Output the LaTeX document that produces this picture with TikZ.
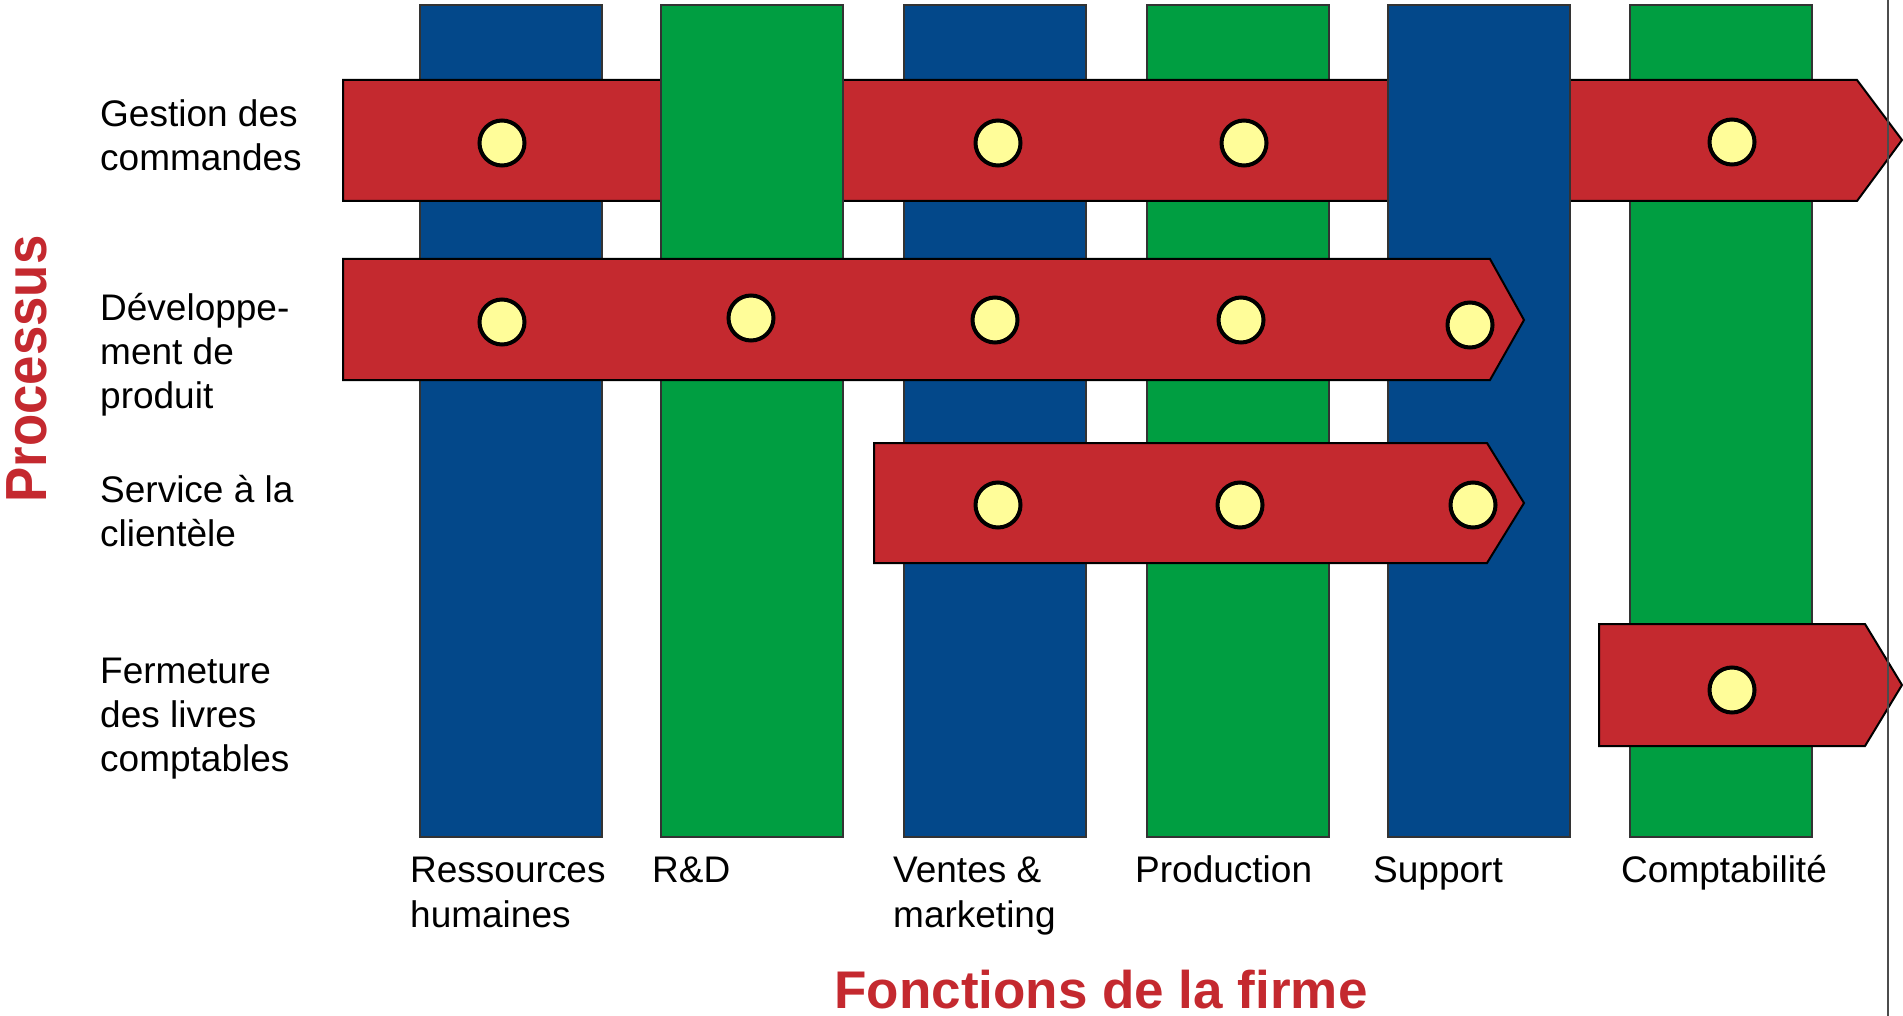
\documentclass[tikz,border=0pt]{standalone}
\usepackage{fontspec}
\setmainfont{Liberation Sans}
\definecolor{colblue}{HTML}{03488A}
\definecolor{colgreen}{HTML}{009E41}
\definecolor{procred}{HTML}{C4292F}
\definecolor{dotyellow}{HTML}{FFFD99}
\tikzset{
  colbox/.style={draw=black!80, line width=1.5pt, inner sep=0pt, outer sep=0pt,
    minimum width=182pt, minimum height=832pt, anchor=north west},
  band/.style={fill=procred, draw=black, line width=2pt, line join=miter},
  dot/.style={circle, fill=dotyellow, draw=black, line width=4pt,
    minimum size=45pt, inner sep=0pt},
  % multi-line labels are placed by the baseline of their last line
  rowlabel/.style={anchor=base west, align=left, inner sep=0pt,
    font=\fontsize{37}{44}\selectfont},
  collabel/.style={anchor=base west, align=left, inner sep=0pt,
    font=\fontsize{37}{45}\selectfont},
  axistitle/.style={text=procred, inner sep=0pt, anchor=base,
    font=\bfseries\fontsize{53}{60}\selectfont}
}
\begin{document}
\begin{tikzpicture}[x=1pt,y=-1pt]
\useasboundingbox (0,0) rectangle (1903,1016);

% functions of the firm: vertical columns (behind the first process band)
\node[colbox, fill=colblue]  (c1) at (420,5)  {};
\node[colbox, fill=colblue]  (c3) at (904,5)  {};
\node[colbox, fill=colgreen] (c4) at (1147,5) {};
\node[colbox, fill=colgreen] (c6) at (1630,5) {};

% order management band passes behind R&D and Support
\path[band] (343,80) -- (1857,80) -- (1902,140) -- (1857,201) -- (343,201) -- cycle;

\node[colbox, fill=colgreen] (c2) at (661,5)  {};
\node[colbox, fill=colblue]  (c5) at (1388,5) {};

% remaining process bands
\path[band] (343,259) -- (1490,259) -- (1524,320) -- (1490,380) -- (343,380) -- cycle;
\path[band] (874,443) -- (1487,443) -- (1524,503) -- (1487,563) -- (874,563) -- cycle;
\path[band] (1599,624) -- (1865,624) -- (1902,685) -- (1865,746) -- (1599,746) -- cycle;

% touch points
\node[dot] (d11) at (502,143)  {};
\node[dot] (d13) at (998,143)  {};
\node[dot] (d14) at (1244,143) {};
\node[dot] (d16) at (1732,142) {};

\node[dot] (d21) at (502,322)  {};
\node[dot] (d22) at (751,318)  {};
\node[dot] (d23) at (995,320)  {};
\node[dot] (d24) at (1241,320) {};
\node[dot] (d25) at (1470,325) {};

\node[dot] (d33) at (998,505)  {};
\node[dot] (d34) at (1240,505) {};
\node[dot] (d35) at (1473,505) {};

\node[dot] (d46) at (1732,690) {};

% process names
\node[rowlabel] (p1) at (100,171) {Gestion des\\commandes};
\node[rowlabel] (p2) at (100,408) {Développe-\\ment de\\produit};
\node[rowlabel] (p3) at (100,546) {Service à la\\clientèle};
\node[rowlabel] (p4) at (100,771) {Fermeture\\des livres\\comptables};

% function names
\node[collabel] (f1) at (410,927)  {Ressources\\humaines};
\node[collabel] (f2) at (652,882)  {R\&D};
\node[collabel] (f3) at (893,927)  {Ventes \&\\marketing};
\node[collabel] (f4) at (1135,882) {Production};
\node[collabel] (f5) at (1373,882) {Support};
\node[collabel] (f6) at (1621,882) {Comptabilité};

% axis titles
\node[axistitle, rotate=90, font=\bfseries\fontsize{58}{64}\selectfont]
  (ty) at (46,369) {\scalebox{0.91}[1]{Processus}};
\node[axistitle] (tx) at (1101,1008) {Fonctions de la firme};

% right frame line
\coordinate (rt) at (1888,0);
\coordinate (rb) at (1888,1016);
\draw[line width=1.5pt, black!70] (rt) -- (rb);
\end{tikzpicture}
\end{document}
